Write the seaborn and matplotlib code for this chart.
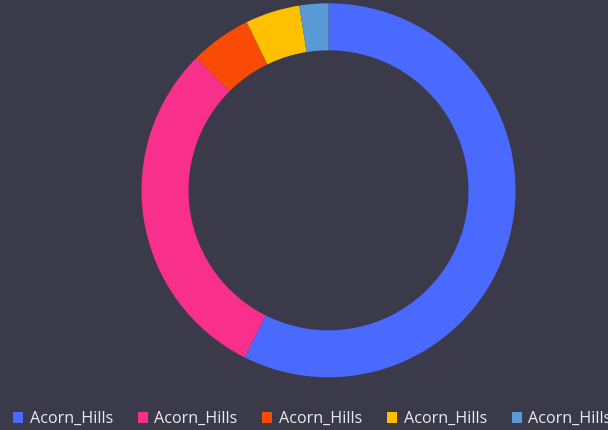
import matplotlib
matplotlib.use("Agg")
import matplotlib.pyplot as plt
import seaborn as sns
from matplotlib.patches import Patch

sns.set_theme(style="dark")
plt.rcParams['font.family'] = ['Open Sans', 'DejaVu Sans']

labels = ["Acorn_Hills", "Acorn_Hills", "Acorn_Hills", "Acorn_Hills", "Acorn_Hills"]
values = [57.4, 30.1, 5.3, 4.7, 2.5]
colors = ["#4a69ff", "#f92f8c", "#f94b06", "#ffc000", "#5b9bd5"]
bg = "#3a3a4a"

W, H = 608, 430
fig = plt.figure(figsize=(W / 100, H / 100), dpi=100, facecolor=bg)
cx, cy, R = 328.5, 190.3, 187
ax = fig.add_axes([(cx - R) / W, (H - cy - R) / H, 2 * R / W, 2 * R / H])
ax.set_facecolor(bg)
ax.pie(values, colors=colors, startangle=90, counterclock=False,
       radius=1, wedgeprops=dict(width=47 / 187, linewidth=0))
ax.set_xlim(-1, 1)
ax.set_ylim(-1, 1)
ax.set_aspect("equal")
ax.axis("off")

fs = 11.6
handles = [Patch(facecolor=c, edgecolor="none") for c in colors]
leg = fig.legend(handles, labels, ncol=5, loc="center left",
                 bbox_to_anchor=(13 / W, 11 / H), frameon=False,
                 fontsize=fs, handlelength=0.62, handleheight=0.62,
                 handletextpad=0.42, columnspacing=1.53, borderaxespad=0,
                 borderpad=0, labelcolor="#ebebee")

fig.savefig("out.png", dpi=100, facecolor=bg)
